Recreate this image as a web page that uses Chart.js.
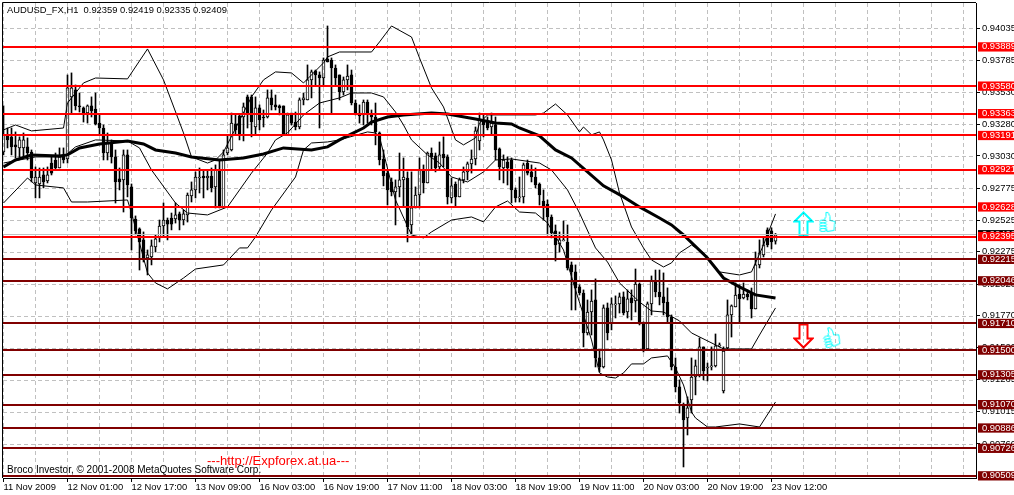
<!DOCTYPE html>
<html>
<head>
<meta charset="utf-8">
<style>
  html, body { margin: 0; padding: 0; background: #fff; overflow: hidden; }
  canvas { display: block; }
</style>
<script src="https://cdn.jsdelivr.net/npm/chart.js@4"></script>
</head>
<body>
<canvas id="chart" width="1014" height="495"></canvas>
<script>
const openPrices = [
  0.93061,0.93188,0.93180,0.93117,0.93093,0.93093,0.93101,0.93061,0.92817,0.92809,
  0.92880,0.92833,0.92974,0.92998,0.92935,0.93038,0.93006,0.93495,0.93550,0.93424,
  0.93408,0.93368,0.93424,0.93400,0.93289,0.93250,0.93053,0.93140,0.93022,0.92849,
  0.92841,0.93038,0.92786,0.92533,0.92455,0.92368,0.92226,0.92234,0.92313,0.92384,
  0.92478,0.92525,0.92541,0.92533,0.92573,0.92525,0.92565,0.92715,0.92762,0.92856,
  0.92872,0.92856,0.92872,0.92786,0.92919,0.92628,0.93053,0.93077,0.93282,0.93345,
  0.93337,0.93495,0.93495,0.93258,0.93408,0.93337,0.93337,0.93487,0.93432,0.93424,
  0.93424,0.93196,0.93368,0.93297,0.93258,0.93471,0.93471,0.93629,0.93700,0.93668,
  0.93644,0.93794,0.93786,0.93723,0.93668,0.93534,0.93629,0.93668,0.93447,0.93368,
  0.93353,0.93455,0.93353,0.93337,0.93211,0.93006,0.92895,0.92825,0.92746,0.92786,
  0.92841,0.92856,0.92486,0.92620,0.92722,0.92919,0.92817,0.93053,0.93030,0.92943,
  0.93045,0.93022,0.92699,0.92809,0.92707,0.92841,0.92904,0.92967,0.93006,0.93148,
  0.93313,0.93297,0.93258,0.93274,0.93085,0.92935,0.92982,0.92998,0.92762,0.92699,
  0.92707,0.92974,0.92904,0.92864,0.92809,0.92675,0.92651,0.92549,0.92439,0.92336,
  0.92360,0.92352,0.92171,0.92116,0.91998,0.91950,0.91635,0.91800,0.91895,0.91438,
  0.91367,0.91832,0.91714,0.91856,0.91864,0.91919,0.91800,0.91911,0.91887,0.92021,
  0.91714,0.91509,0.91864,0.92045,0.91958,0.91919,0.91879,0.91761,0.91367,0.91210,
  0.91068,0.90965,0.91107,0.91288,0.91296,0.91525,0.91359,0.91367,0.91375,0.91533,
  0.91178,0.91517,0.91777,0.91840,0.91942,0.91911,0.91942,0.91950,0.91824,0.92171,
  0.92250,0.92447,0.92439,0.92359
];
const highPrices = [
  0.93424,0.93250,0.93250,0.93219,0.93180,0.93211,0.93172,0.93077,0.92943,0.92935,
  0.92935,0.92943,0.93022,0.93053,0.93093,0.93093,0.93668,0.93684,0.93589,0.93526,
  0.93416,0.93432,0.93495,0.93526,0.93353,0.93274,0.93211,0.93156,0.93077,0.92935,
  0.93077,0.93077,0.92809,0.92557,0.92463,0.92431,0.92289,0.92368,0.92407,0.92525,
  0.92659,0.92541,0.92580,0.92659,0.92588,0.92604,0.92738,0.92825,0.92904,0.92935,
  0.92919,0.92919,0.92935,0.92959,0.92998,0.93077,0.93196,0.93368,0.93353,0.93353,
  0.93447,0.93510,0.93510,0.93495,0.93432,0.93392,0.93550,0.93550,0.93510,0.93432,
  0.93424,0.93368,0.93368,0.93376,0.93487,0.93526,0.93747,0.93707,0.93707,0.93692,
  0.93802,0.94054,0.93802,0.93747,0.93668,0.93652,0.93747,0.93707,0.93471,0.93432,
  0.93471,0.93471,0.93392,0.93447,0.93219,0.93077,0.92919,0.92856,0.92841,0.93053,
  0.93014,0.92904,0.92904,0.92786,0.93014,0.92959,0.93061,0.93093,0.93053,0.93140,
  0.93180,0.93038,0.92856,0.92825,0.92856,0.92943,0.92982,0.93077,0.93258,0.93368,
  0.93353,0.93337,0.93368,0.93337,0.93093,0.93038,0.93022,0.93014,0.92778,0.92864,
  0.92974,0.92998,0.92959,0.92935,0.92817,0.92762,0.92683,0.92565,0.92486,0.92431,
  0.92517,0.92486,0.92194,0.92171,0.92014,0.91974,0.91895,0.91974,0.92061,0.91501,
  0.91856,0.91871,0.91911,0.91927,0.91950,0.91958,0.91974,0.91974,0.92139,0.92029,
  0.91722,0.91879,0.92084,0.92131,0.92131,0.92108,0.91990,0.91777,0.91438,0.91265,
  0.91083,0.91131,0.91438,0.91422,0.91596,0.91525,0.91398,0.91525,0.91627,0.91556,
  0.91525,0.91895,0.91856,0.92029,0.92014,0.92029,0.91974,0.91989,0.92273,0.92368,
  0.92384,0.92463,0.92463,0.92419
];
const lowPrices = [
  0.93038,0.93093,0.93038,0.93014,0.93022,0.93022,0.92998,0.92825,0.92699,0.92699,
  0.92778,0.92817,0.92880,0.92919,0.92935,0.92974,0.92974,0.93368,0.93392,0.93376,
  0.93297,0.93289,0.93337,0.93274,0.93196,0.92998,0.92998,0.92974,0.92659,0.92762,
  0.92588,0.92707,0.92289,0.92408,0.92131,0.92194,0.92092,0.92171,0.92273,0.92352,
  0.92392,0.92368,0.92447,0.92501,0.92447,0.92486,0.92509,0.92667,0.92699,0.92738,
  0.92699,0.92762,0.92746,0.92620,0.92620,0.92620,0.93038,0.93069,0.93196,0.93156,
  0.93148,0.93250,0.93180,0.93196,0.93235,0.93258,0.93329,0.93392,0.93392,0.93353,
  0.93196,0.93196,0.93274,0.93235,0.93243,0.93432,0.93471,0.93487,0.93589,0.93250,
  0.93589,0.93770,0.93368,0.93589,0.93471,0.93510,0.93550,0.93432,0.93353,0.93289,
  0.93274,0.93289,0.93274,0.93117,0.92959,0.92794,0.92643,0.92715,0.92486,0.92707,
  0.92628,0.92352,0.92408,0.92620,0.92620,0.92738,0.92817,0.92919,0.92904,0.92919,
  0.92943,0.92651,0.92659,0.92628,0.92707,0.92817,0.92841,0.92895,0.92959,0.93077,
  0.93180,0.93235,0.93196,0.92998,0.92841,0.92817,0.92801,0.92659,0.92667,0.92667,
  0.92659,0.92880,0.92825,0.92778,0.92643,0.92525,0.92407,0.92384,0.92202,0.92273,
  0.92360,0.92131,0.91816,0.91816,0.91934,0.91525,0.91619,0.91619,0.91367,0.91328,
  0.91359,0.91580,0.91659,0.91753,0.91792,0.91777,0.91753,0.91737,0.91800,0.91698,
  0.91485,0.91501,0.91777,0.91919,0.91856,0.91777,0.91721,0.91343,0.91170,0.91004,
  0.90579,0.90831,0.91004,0.91147,0.91288,0.91265,0.91257,0.91343,0.91367,0.91525,
  0.91162,0.91509,0.91603,0.91840,0.91721,0.91903,0.91895,0.91753,0.91824,0.92147,
  0.92234,0.92313,0.92297,0.92335
];
const closePrices = [
  0.93196,0.93156,0.93101,0.93101,0.93156,0.93156,0.93053,0.92856,0.92864,0.92864,
  0.92825,0.92880,0.92895,0.92935,0.93022,0.92998,0.93566,0.93566,0.93424,0.93416,
  0.93368,0.93424,0.93384,0.93282,0.93250,0.93053,0.93140,0.93022,0.92825,0.92825,
  0.93038,0.92801,0.92541,0.92439,0.92352,0.92226,0.92250,0.92321,0.92376,0.92478,
  0.92525,0.92493,0.92493,0.92565,0.92525,0.92573,0.92722,0.92762,0.92864,0.92864,
  0.92856,0.92872,0.92778,0.92919,0.92628,0.93038,0.93093,0.93289,0.93235,0.93196,
  0.93416,0.93368,0.93297,0.93408,0.93313,0.93329,0.93487,0.93432,0.93416,0.93408,
  0.93196,0.93353,0.93289,0.93258,0.93471,0.93487,0.93629,0.93692,0.93668,0.93644,
  0.93786,0.93770,0.93723,0.93644,0.93534,0.93629,0.93660,0.93447,0.93368,0.93345,
  0.93455,0.93368,0.93337,0.93219,0.92998,0.92872,0.92762,0.92746,0.92786,0.92841,
  0.92864,0.92470,0.92620,0.92722,0.92919,0.92817,0.93053,0.93022,0.92935,0.93038,
  0.93014,0.92707,0.92794,0.92707,0.92841,0.92904,0.92967,0.93006,0.93227,0.93313,
  0.93274,0.93250,0.93289,0.93077,0.92943,0.92998,0.92935,0.92762,0.92699,0.92707,
  0.92959,0.92895,0.92864,0.92801,0.92722,0.92636,0.92549,0.92423,0.92328,0.92368,
  0.92368,0.92147,0.92116,0.91990,0.91950,0.91635,0.91800,0.91887,0.91438,0.91367,
  0.91832,0.91635,0.91864,0.91864,0.91919,0.91792,0.91903,0.91871,0.92021,0.91714,
  0.91509,0.91864,0.92045,0.91958,0.91919,0.91871,0.91761,0.91367,0.91210,0.91083,
  0.90949,0.91044,0.91288,0.91375,0.91525,0.91335,0.91367,0.91375,0.91533,0.91541,
  0.91493,0.91777,0.91848,0.91934,0.91903,0.91942,0.91919,0.91824,0.92171,0.92266,
  0.92329,0.92329,0.92352,0.92409
];

const upperBars = [0,3,7,15,16,20,23,31,36,40,45,47,51,53,55,62,65,68,72,75,80,81,84,92,94,97,102,104,107,110,113,115,118,119,121,133,135,138,141,144,145,147,149,150,152,154,157,160,162,165,167,169,172,175,179,184,187,190,193];
const upperPrices = [0.93235,0.93274,0.93227,0.93250,0.93447,0.93605,0.93644,0.93637,0.93873,0.93629,0.93211,0.93022,0.92974,0.92998,0.93061,0.93495,0.93629,0.93692,0.93684,0.93605,0.93763,0.93810,0.93849,0.93849,0.93928,0.94054,0.93967,0.93802,0.93566,0.93416,0.93156,0.93117,0.93172,0.93289,0.93353,0.93353,0.93368,0.93439,0.93353,0.93219,0.93258,0.93196,0.93219,0.93156,0.92998,0.92738,0.92470,0.92305,0.92210,0.92155,0.92187,0.92266,0.92328,0.92266,0.92116,0.92092,0.92116,0.92328,0.92573];

const middleBars = [0,8,15,18,23,31,34,37,43,46,51,56,62,66,68,71,75,79,84,87,92,95,98,100,102,106,109,112,116,120,123,127,134,137,141,144,148,151,154,159,162,165,169,172,178,180,187,189,193];
const middlePrices = [0.92974,0.93022,0.93022,0.93101,0.93156,0.93148,0.93093,0.92919,0.92659,0.92580,0.92565,0.92628,0.92895,0.93053,0.93156,0.93211,0.93353,0.93447,0.93487,0.93526,0.93526,0.93495,0.93376,0.93274,0.93156,0.93038,0.92974,0.92864,0.92825,0.92904,0.92998,0.93006,0.92974,0.92919,0.92762,0.92580,0.92305,0.92194,0.92029,0.91879,0.91808,0.91800,0.91730,0.91635,0.91541,0.91509,0.91509,0.91619,0.91832];

const lowerBars = [0,6,8,15,17,21,31,32,36,38,41,45,48,55,59,61,63,67,73,75,77,81,84,91,93,94,98,102,105,107,112,117,120,123,126,129,133,136,140,143,147,149,151,153,155,157,160,162,166,168,170,172,173,176,178,184,189,193];
const lowerPrices = [0.92659,0.92856,0.92801,0.92778,0.92667,0.92667,0.92683,0.92580,0.92108,0.92029,0.91982,0.92068,0.92139,0.92171,0.92305,0.92305,0.92392,0.92604,0.92864,0.93077,0.93132,0.93140,0.93156,0.93219,0.93211,0.93180,0.92683,0.92407,0.92384,0.92431,0.92525,0.92549,0.92510,0.92628,0.92675,0.92588,0.92580,0.92502,0.92289,0.91974,0.91580,0.91320,0.91288,0.91280,0.91320,0.91391,0.91391,0.91438,0.91454,0.91359,0.91225,0.91012,0.90965,0.90894,0.90894,0.90918,0.90894,0.91091];

const slowBars = [0,3,7,14,16,19,24,31,35,38,43,47,54,60,65,70,77,81,84,87,90,92,96,100,107,111,118,123,127,129,134,138,142,146,150,155,159,164,167,170,176,180,184,188,193];
const slowPrices = [0.92943,0.92998,0.93038,0.93030,0.93038,0.93093,0.93124,0.93148,0.93124,0.93077,0.93053,0.93022,0.92998,0.93014,0.93045,0.93093,0.93077,0.93101,0.93156,0.93203,0.93250,0.93297,0.93337,0.93353,0.93368,0.93361,0.93321,0.93289,0.93282,0.93250,0.93188,0.93077,0.93014,0.92904,0.92794,0.92707,0.92628,0.92541,0.92486,0.92407,0.92226,0.92068,0.91998,0.91935,0.91911];

const redLevels = [0.93889,0.93580,0.93363,0.93191,0.92921,0.92628,0.92395];
const darkLevels = [0.92215,0.92046,0.91710,0.91500,0.91305,0.91070,0.90886,0.90726,0.90509];
const bidPrice = 0.92409;
const priceTicks = [0.94035,0.93785,0.93530,0.93280,0.93030,0.92775,0.92525,0.92275,0.92020,0.91770,0.91520,0.91265,0.91015,0.90760];
const timeLabels = ['11 Nov 2009','12 Nov 01:00','12 Nov 17:00','13 Nov 09:00','16 Nov 03:00','16 Nov 19:00','17 Nov 11:00','18 Nov 03:00','18 Nov 19:00','19 Nov 11:00','20 Nov 03:00','20 Nov 19:00','23 Nov 12:00'];

const signalBars = [200,200,206,207];
const signalPrices = [0.92494,0.91611,0.92510,0.91603];

const titleText = 'AUDUSD_FX,H1  0.92359 0.92419 0.92335 0.92409';
const copyrightText = 'Broco Investor, \u00a9 2001-2008 MetaQuotes Software Corp.';
const linkText = '---http://Expforex.at.ua---';

const uiFont = '"Liberation Sans"';
const gridColor = '#c0c0c0';

function series(bars, prices) {
  return bars.map((b, i) => ({ x: b, y: prices[i] }));
}

function arrowImage(color, down) {
  const c = document.createElement('canvas');
  c.width = 21; c.height = 26;
  const g = c.getContext('2d');
  if (down) { g.translate(0, 26); g.scale(1, -1); }
  g.beginPath();
  [[10.5,1.5],[19.5,10.5],[14.5,10.5],[14.5,24.5],[6.5,24.5],[6.5,10.5],[1.5,10.5]].forEach((p, i) => {
    if (i) g.lineTo(p[0], p[1]); else g.moveTo(p[0], p[1]);
  });
  g.closePath();
  g.fillStyle = '#fff';
  g.fill();
  g.strokeStyle = color;
  g.lineWidth = 2;
  g.stroke();
  return c;
}

function thumbImage() {
  const c = document.createElement('canvas');
  c.width = 18; c.height = 22;
  const g = c.getContext('2d');
  g.strokeStyle = '#00ffff';
  g.fillStyle = '#fff';
  g.lineWidth = 1;
  g.beginPath();
  g.moveTo(5.5, 9.5);
  g.lineTo(7.5, 5.5);
  g.lineTo(7.5, 1.5);
  g.lineTo(9.5, 1.5);
  g.lineTo(11.5, 5.5);
  g.lineTo(11.5, 9.5);
  g.lineTo(16.5, 10.5);
  g.lineTo(15.5, 19.5);
  g.lineTo(8.5, 20.5);
  g.closePath();
  g.fill();
  g.stroke();
  [10.5, 13.5, 16.5, 19].forEach(y => {
    g.beginPath();
    g.ellipse(4.5, y, 3.5, 1.5, 0, 0, Math.PI * 2);
    g.fill();
    g.stroke();
  });
  return c;
}

const labelsPlugin = {
  id: 'chartLabels',
  // dashed grid, 'darken' keeps it looking as if it were under the black marks
  afterDatasetsDraw(chart) {
    const ctx = chart.ctx;
    const a = chart.chartArea;
    ctx.save();
    ctx.globalCompositeOperation = 'darken';
    ctx.strokeStyle = gridColor;
    ctx.lineWidth = 1;
    ctx.setLineDash([4, 3]);
    for (let i = 0; i <= 240; i += 8) {
      const x = Math.floor(chart.scales.x.getPixelForValue(i)) + 0.5;
      ctx.beginPath();
      ctx.moveTo(x, a.top);
      ctx.lineTo(x, a.bottom);
      ctx.stroke();
    }
    priceTicks.forEach(p => {
      const y = Math.round(chart.scales.y.getPixelForValue(p)) + 0.5;
      ctx.beginPath();
      ctx.moveTo(a.left, y);
      ctx.lineTo(a.right, y);
      ctx.stroke();
    });
    ctx.restore();
  },
  afterDraw(chart) {
    const ctx = chart.ctx;
    const a = chart.chartArea;
    ctx.save();
    ctx.strokeStyle = '#000';
    ctx.lineWidth = 1;
    ctx.beginPath();
    ctx.moveTo(2.5, a.bottom);
    ctx.lineTo(2.5, 2.5);
    ctx.lineTo(a.right, 2.5);
    ctx.stroke();
    ctx.textBaseline = 'middle';
    ctx.textAlign = 'left';
    ctx.font = '9.4px ' + uiFont;
    ctx.fillStyle = '#000';
    ctx.fillText(titleText, 7, 10.5);
    ctx.font = '13px ' + uiFont;
    ctx.fillStyle = '#ff0000';
    ctx.fillText(linkText, 207, 461);
    ctx.font = '10px ' + uiFont;
    ctx.fillStyle = '#000';
    ctx.fillText(copyrightText, 7, 470);
    ctx.restore();
  }
};

function bandDataset(bars, prices, width) {
  return {
    type: 'line',
    data: series(bars, prices),
    borderColor: '#000',
    borderWidth: width,
    pointRadius: 0,
    tension: 0,
    order: 2
  };
}

const allBars = openPrices.map((_, i) => i);
const axisTicks = priceTicks.concat([bidPrice], redLevels, darkLevels);
const tagStart = priceTicks.length;
const levelLines = [bidPrice].concat(redLevels, darkLevels);

function tagColor(i) {
  if (i < tagStart) return 'rgba(0,0,0,0)';
  if (i === tagStart) return '#000';
  return i - tagStart - 1 < redLevels.length ? '#ff0000' : '#800000';
}

function levelColor(i) {
  if (i === 0) return '#c0c0c0';
  return i - 1 < redLevels.length ? '#ff0000' : '#800000';
}

new Chart(document.getElementById('chart'), {
  data: {
    datasets: [
      {
        type: 'line',
        data: series(signalBars, signalPrices),
        showLine: false,
        pointStyle: [arrowImage('#00ffff', false), arrowImage('#ff0000', true), thumbImage(), thumbImage()],
        rotation: [0, 0, 0, -14],
        order: 0
      },
      bandDataset(upperBars, upperPrices, 1),
      bandDataset(middleBars, middlePrices, 1),
      bandDataset(lowerBars, lowerPrices, 1),
      bandDataset(slowBars, slowPrices, 3),
      {
        type: 'bar',
        data: allBars.map(i => ({ x: i, y: [openPrices[i], closePrices[i]] })),
        barThickness: 3,
        grouped: false,
        borderWidth: 1,
        borderSkipped: false,
        borderColor: '#000',
        backgroundColor: allBars.map(i => closePrices[i] >= openPrices[i] ? '#fff' : '#000'),
        order: 3
      },
      {
        type: 'bar',
        data: allBars.map(i => ({ x: i, y: [lowPrices[i], highPrices[i]] })),
        barThickness: 1,
        grouped: false,
        borderWidth: 0,
        backgroundColor: '#000',
        order: 4
      }
    ]
  },
  options: {
    responsive: false,
    animation: false,
    devicePixelRatio: 1,
    layout: { autoPadding: false, padding: { left: 3, top: 3 } },
    plugins: { legend: { display: false }, tooltip: { enabled: false } },
    events: [],
    scales: {
      x: {
        type: 'linear',
        offset: false,
        min: -0.125,
        max: 243.125,
        afterBuildTicks(s) {
          const t = [];
          for (let i = 0; i <= 240; i += 8) t.push({ value: i });
          s.ticks = t;
        },
        afterFit(s) {
          s.height = 17;
          s.paddingLeft = 0;
          s.paddingRight = 0;
        },
        ticks: {
          autoSkip: false,
          maxRotation: 0,
          minRotation: 0,
          align: 'start',
          padding: 0,
          color: '#000',
          font: { family: uiFont, size: 9.4 },
          callback: (v) => (v % 16 === 0 && timeLabels[v / 16]) || ''
        },
        grid: {
          offset: false,
          drawOnChartArea: false,
          tickLength: 4,
          tickColor: (c) => (c.tick && c.tick.value % 16 === 0 && c.tick.value <= 192) ? '#000' : 'rgba(0,0,0,0)'
        },
        border: { color: '#000' }
      },
      y: {
        type: 'linear',
        position: 'right',
        min: 0.90492,
        max: 0.94235,
        afterBuildTicks(s) {
          s.ticks = axisTicks.map(v => ({ value: v }));
        },
        afterFit(s) {
          s.width = 38;
          s.paddingTop = 0;
          s.paddingBottom = 0;
        },
        ticks: {
          autoSkip: false,
          padding: 2,
          font: { family: uiFont, size: 9.4 },
          color: (c) => c.index < tagStart ? '#000' : '#fff',
          showLabelBackdrop: (c) => c.index >= tagStart,
          backdropColor: (c) => tagColor(c.index),
          backdropPadding: { top: -1, bottom: -1, left: 4, right: 4 },
          callback: (v) => v.toFixed(5)
        },
        grid: {
          drawOnChartArea: false,
          tickLength: 4,
          tickColor: (c) => c.index < tagStart ? '#000' : 'rgba(0,0,0,0)'
        },
        border: { color: '#000' }
      },
      // second price axis only carries the solid level lines, above the candles
      levels: {
        type: 'linear',
        position: 'right',
        min: 0.90492,
        max: 0.94235,
        afterBuildTicks(s) {
          s.ticks = levelLines.map(v => ({ value: v }));
        },
        afterFit(s) {
          s.width = 0;
          s.paddingTop = 0;
          s.paddingBottom = 0;
        },
        ticks: { display: false, autoSkip: false },
        grid: {
          z: 1,
          drawTicks: false,
          color: (c) => levelColor(c.index),
          lineWidth: (c) => c.index === 0 ? 1 : 2
        },
        border: { display: false }
      }
    }
  },
  plugins: [labelsPlugin]
});
</script>
</body>
</html>
